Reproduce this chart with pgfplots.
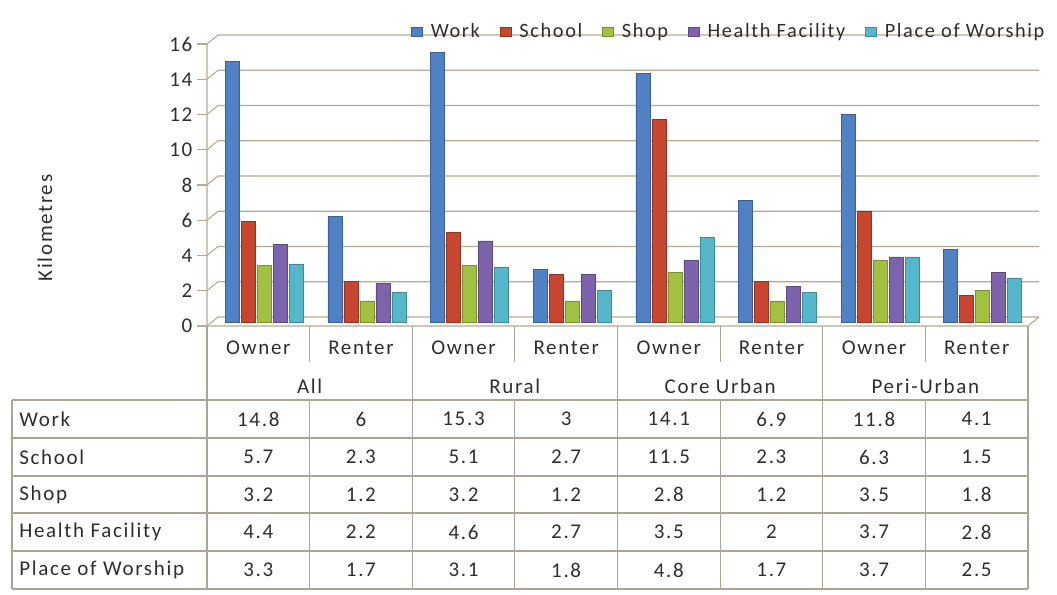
\documentclass[border=0pt]{standalone}
\usepackage{fontspec}
\setmainfont{Carlito}[LetterSpace=8]
\usepackage{pgfplots}
\pgfplotsset{compat=1.18}
\usepackage{pgfplotstable}

\definecolor{cWork}{HTML}{4F81C4}
\definecolor{cSchool}{HTML}{C8452F}
\definecolor{cShop}{HTML}{A3C140}
\definecolor{cHealth}{HTML}{7D62AC}
\definecolor{cWorship}{HTML}{55B8CA}
\definecolor{gridc}{HTML}{B5AB92}
\definecolor{tabc}{HTML}{ABA693}
\definecolor{txt}{HTML}{2E2E2E}

\pgfplotstableread{
x Work School Shop Health Worship
0 14.8 5.7 3.2 4.4 3.3
1 6 2.3 1.2 2.2 1.7
2 15.3 5.1 3.2 4.6 3.1
3 3 2.7 1.2 2.7 1.8
4 14.1 11.5 2.8 3.5 4.8
5 6.9 2.3 1.2 2 1.7
6 11.8 6.3 3.5 3.7 3.7
7 4.1 1.5 1.8 2.8 2.5
}\data

\newcommand\tf{\fontsize{15.75}{18}\selectfont}
\pgfplotsset{
  mybar/.style={
    fill=#1, draw=#1!75!black, line width=0.4pt, xshift=4.5pt, yshift=3pt,
    legend image code/.code={\fill[##1, xshift=-4.5pt, yshift=-3pt] (0pt,-3.4pt) rectangle (8.25pt,3.4pt);}
  }
}

\begin{document}
\begin{tikzpicture}
\useasboundingbox (0,0) rectangle (792.75pt,445.5pt);
\begin{axis}[
  at={(155.25pt,201pt)}, anchor=south west,
  width=615.75pt, height=211.5pt, scale only axis,
  xmin=-0.5, xmax=7.5, ymin=0, ymax=16,
  ybar=1.5pt, bar width=10.5pt,
  ytick={0,2,...,16}, xtick=\empty,
  ytick pos=left,
  tick align=outside, major tick length=7.5pt,
  tick style={gridc, line width=0.8pt},
  yticklabel style={font=\tf, text=txt},
  /pgf/number format/assume math mode=true,
  axis line style={draw=none},
  clip=false,
  legend columns=-1,
  legend style={at={(1.0268,1.0443)}, anchor=east, draw=none, fill=none,
    font=\fontsize{15.25}{17}\selectfont, text=txt,
    nodes={inner xsep=1pt, inner ysep=2pt},
    /tikz/every even column/.append style={column sep=14pt},
    /tikz/every odd column/.append style={column sep=5pt}},
]
\pgfplotsinvokeforeach{0,2,...,16}{
  \draw[gridc, line width=0.8pt] (axis cs:-0.5,#1) -- ([xshift=8.25pt,yshift=6.75pt]axis cs:-0.5,#1) -- ([xshift=8.25pt,yshift=6.75pt]axis cs:7.5,#1);
}
\draw[gridc, line width=0.8pt] (axis cs:-0.5,16) -- (axis cs:-0.5,0) -- (axis cs:7.5,0) -- ([xshift=8.25pt,yshift=6.75pt]axis cs:7.5,0);
\addplot[mybar=cWork] table[x=x,y=Work]{\data};
\addplot[mybar=cSchool] table[x=x,y=School]{\data};
\addplot[mybar=cShop] table[x=x,y=Shop]{\data};
\addplot[mybar=cHealth] table[x=x,y=Health]{\data};
\addplot[mybar=cWorship] table[x=x,y=Worship]{\data};
\legend{Work, School, Shop, Health Facility, Place of Worship}
\end{axis}

\begin{scope}[x=0.75pt, y=-0.75pt, yshift=445.5pt]
  \node[rotate=90, font=\tf, text=txt] at (45,228) {Kilometres};
  % header lines
  \foreach \k in {0,...,4} \draw[tabc, line width=0.8pt] ({207+205.25*\k},326) -- ({207+205.25*\k},400);
  \foreach \k in {0,...,3} \draw[tabc, line width=0.8pt] ({309.6+205.25*\k},326) -- ({309.6+205.25*\k},362);
  % data table lines
  \foreach \yy in {400,438,476,513,551,589} \draw[tabc, line width=0.8pt] (12,\yy) -- (1028,\yy);
  \draw[tabc, line width=0.8pt] (12,400) -- (12,589);
  \foreach \k in {0,...,8} \draw[tabc, line width=0.8pt] ({207+102.625*\k},400) -- ({207+102.625*\k},589);
  % header text
  \begin{scope}[every node/.style={font=\tf, text=txt, inner sep=0pt}]
  \foreach \lab [count=\i from 0] in {Owner,Renter,Owner,Renter,Owner,Renter,Owner,Renter}
    \node at ({258.3+102.625*\i},348) {\lab};
  \foreach \lab [count=\i from 0] in {All,Rural,Core Urban,Peri-Urban}
    \node at ({309.6+205.25*\i},386) {\lab};
  \foreach \lab/\yy in {Work/419,School/457,Shop/494.5,Health Facility/532,Place of Worship/570}
    \node[anchor=west] at (19,\yy) {\lab};
  \foreach \v [count=\i from 0] in {14.8,6,15.3,3,14.1,6.9,11.8,4.1}
    \node at ({258.3+102.625*\i},419) {\v};
  \foreach \v [count=\i from 0] in {5.7,2.3,5.1,2.7,11.5,2.3,6.3,1.5}
    \node at ({258.3+102.625*\i},457) {\v};
  \foreach \v [count=\i from 0] in {3.2,1.2,3.2,1.2,2.8,1.2,3.5,1.8}
    \node at ({258.3+102.625*\i},494.5) {\v};
  \foreach \v [count=\i from 0] in {4.4,2.2,4.6,2.7,3.5,2,3.7,2.8}
    \node at ({258.3+102.625*\i},532) {\v};
  \foreach \v [count=\i from 0] in {3.3,1.7,3.1,1.8,4.8,1.7,3.7,2.5}
    \node at ({258.3+102.625*\i},570) {\v};
  \end{scope}
\end{scope}
\end{tikzpicture}
\end{document}
